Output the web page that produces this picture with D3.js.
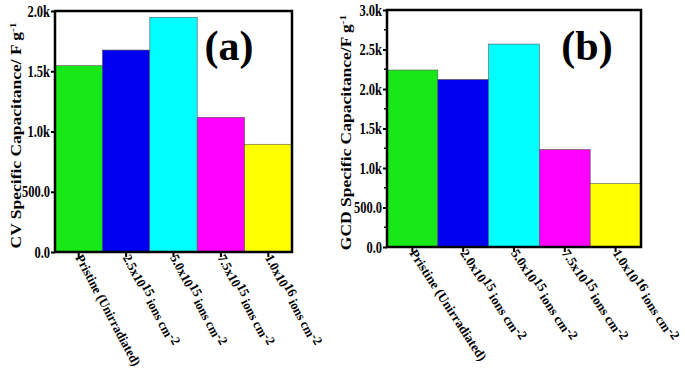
<!DOCTYPE html>
<html>
<head>
<meta charset="utf-8">
<script src="https://cdn.jsdelivr.net/npm/d3@7"></script>
<style>
  body { margin: 0; background: #fff; }
  svg text { font-family: "Liberation Serif", "Times New Roman", serif !important; font-weight: bold; fill: #000; }
</style>
</head>
<body>
<div id="chart-area"></div>
<script>
const categoriesA = ["Pristine (Unirradiated)", "2.5x10|15| ions cm|-2", "5.0x10|15| ions cm|-2", "7.5x10|15| ions cm|-2", "1.0x10|16| ions cm|-2"]
const categoriesB = ["Pristine (Unirradiated)", "2.0x10|15| ions cm|-2", "5.0x10|15| ions cm|-2", "7.5x10|15| ions cm|-2", "1.0x10|16| ions cm|-2"]
const cvValues = [1546, 1676, 1948, 1118, 894]
const gcdValues = [2240, 2121, 2569, 1234, 803]
const barColors = ["#18e818", "#0000f0", "#00ffff", "#ff00ff", "#ffff00"]
const ticksA = [0, 500, 1000, 1500, 2000]
const ticksB = [0, 500, 1000, 1500, 2000, 2500, 3000]
const minorB = [250, 750, 1250, 1750, 2250, 2750]

const svg = d3.select("#chart-area").append("svg")
  .attr("width", 685)
  .attr("height", 376)

svg.append("rect").attr("width", 685).attr("height", 376).attr("fill", "#fff")

const fmt = d => d === 0 ? "0.0" : d < 1000 ? d.toFixed(1) : (d / 1000).toFixed(1) + "k"

function panel(opt) {
  const W = opt.right - opt.left
  const H = opt.bottom - opt.top
  const g = svg.append("g").attr("transform", `translate(${opt.left}, ${opt.top})`)

  const x = d3.scaleBand()
    .domain(opt.cats)
    .range([0, W])
    .padding(0)

  const y = d3.scaleLinear()
    .domain([0, opt.max])
    .range([H, 0])

  g.selectAll("rect.bar")
    .data(opt.values)
    .enter().append("rect")
    .attr("class", "bar")
    .attr("x", (d, i) => x(opt.cats[i]))
    .attr("y", d => y(d))
    .attr("width", x.bandwidth())
    .attr("height", d => H - y(d))
    .attr("fill", (d, i) => barColors[i])
    .attr("stroke", "#555")
    .attr("stroke-width", 0.6)

  // minor ticks
  if (opt.minor) {
    g.selectAll("line.minor")
      .data(opt.minor)
      .enter().append("line")
      .attr("x1", -3).attr("x2", 0)
      .attr("y1", d => y(d)).attr("y2", d => y(d))
      .attr("stroke", "#000").attr("stroke-width", 1.5)
  }

  const yAxis = g.append("g")
    .call(d3.axisLeft(y).tickValues(opt.ticks).tickFormat(fmt).tickSize(4).tickPadding(1))
  yAxis.select(".domain").remove()
  yAxis.selectAll("line").attr("stroke-width", 2)
  yAxis.selectAll("text")
    .style("font-size", "12.5px")
    .attr("transform", "scale(1, 1.3)")

  const xAxis = g.append("g")
    .attr("transform", `translate(0, ${H})`)
    .call(d3.axisBottom(x).tickSize(5).tickFormat(""))
  xAxis.select(".domain").remove()
  xAxis.selectAll("line").attr("stroke-width", 2)

  // rotated category labels
  opt.cats.forEach((c, i) => {
    const parts = c.split("|")
    const t = g.append("text")
      .attr("transform", `translate(${x(c) + x.bandwidth() / 2 + 1}, ${H + 3}) rotate(${opt.angle}) scale(${opt.labelScale}, 1.1)`)
      .attr("dy", "0.4em")
      .style("font-size", "12px")
    parts.forEach((p, j) => {
      const ts = t.append("tspan").text(p)
      if (j % 2 === 1) ts.attr("dy", -3)
      else if (j > 0) ts.attr("dy", 3)
    })
  })

  // frame
  g.append("rect")
    .attr("width", W).attr("height", H)
    .attr("fill", "none")
    .attr("stroke", "#000")
    .attr("stroke-width", 2.5)

  // y title
  const yt = svg.append("text")
    .attr("transform", `translate(${opt.titleX}, ${opt.top + H / 2 + 4}) rotate(-90) scale(1.25, 1)`)
    .attr("text-anchor", "middle")
    .style("font-size", "14px")
    .text(opt.title)
  yt.append("tspan").attr("dy", -5).style("font-size", "9px").text("-1")

  // panel letter
  svg.append("text")
    .attr("x", opt.labelX).attr("y", opt.labelY)
    .attr("text-anchor", "middle")
    .style("font-size", "42px")
    .text(opt.letter)
}

panel({
  left: 55, right: 292, top: 11, bottom: 252,
  cats: categoriesA, values: cvValues, max: 2000, ticks: ticksA,
  angle: 62, labelScale: 1.05,
  title: "CV Specific Capacitance/ F g", titleX: 21,
  letter: "(a)", labelX: 229, labelY: 60
})

panel({
  left: 387, right: 641, top: 10, bottom: 247,
  cats: categoriesB, values: gcdValues, max: 3000, ticks: ticksB, minor: minorB,
  angle: 57, labelScale: 1.1,
  title: "GCD Specific Capacitance/F g", titleX: 351,
  letter: "(b)", labelX: 587, labelY: 60
})
</script>
</body>
</html>
